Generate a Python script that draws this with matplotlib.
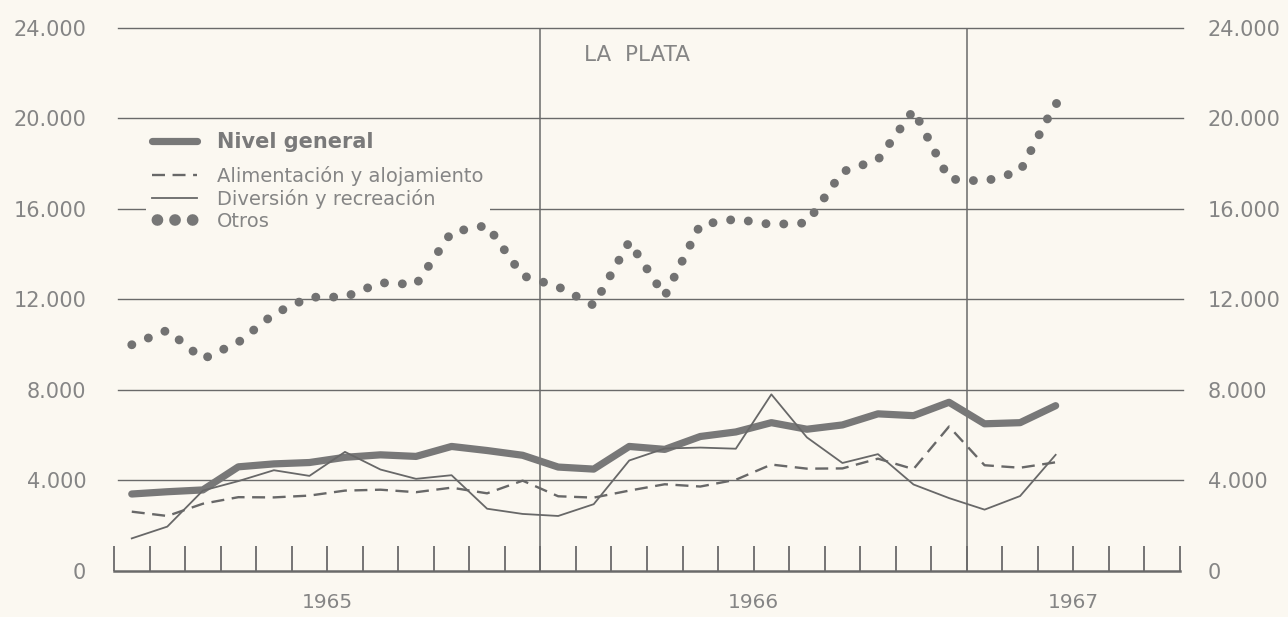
import matplotlib
matplotlib.use("Agg")
import matplotlib.pyplot as plt
import numpy as np
from matplotlib.ticker import FuncFormatter
from matplotlib.lines import Line2D

# ---------------- data (monthly, Jan 1965 .. Mar 1967) ----------------
months = list(range(27))
nivel_general = [3400, 3500, 3580, 4600, 4730, 4790, 5020, 5130, 5060, 5500, 5320, 5110,
                 4590, 4500, 5500, 5370, 5940, 6140, 6550, 6260, 6450, 6940, 6860, 7450,
                 6500, 6550, 7300]
alimentacion = [2620, 2430, 2970, 3260, 3250, 3330, 3550, 3590, 3480, 3680, 3430, 3990,
                3300, 3240, 3550, 3830, 3730, 4030, 4700, 4520, 4530, 4960, 4500, 6380,
                4670, 4560, 4800]
diversion = [1440, 1960, 3550, 3970, 4450, 4200, 5260, 4480, 4070, 4230, 2750, 2520,
             2430, 2950, 4880, 5410, 5450, 5400, 7800, 5900, 4770, 5160, 3820, 3220,
             2710, 3310, 5130]
otros = [9990, 10630, 9360, 10100, 11350, 12090, 12100, 12730, 12650, 14960, 15260, 13040,
         12550, 11730, 14540, 12140, 15290, 15540, 15300, 15370, 17630, 18160, 20350, 17310,
         17210, 17650, 20660]

labels = ["Nivel general", "Alimentación y alojamiento", "Diversión y recreación", "Otros"]
title = "LA  PLATA"
years = ["1965", "1966", "1967"]
year_centers = [6, 18, 27]       # in month-tick units
year_bounds = [12, 24]           # vertical separators
n_ticks = 30
y_ticks = [0, 4000, 8000, 12000, 16000, 20000, 24000]

# ---------------- style ----------------
BG = "#FBF8F1"
TXT = "#858585"
GRID = "#6a6a6a"
LINE = "#686868"
DOT = "#727272"
plt.rcParams["font.family"] = ["DejaVu Sans"]

W, H = 1288, 617
fig = plt.figure(figsize=(W / 100, H / 100), dpi=100, facecolor=BG)
x0, x1 = 114, 1180
ytop, ybot = 27.5, 571
ax = fig.add_axes([x0 / W, 1 - ybot / H, (x1 - x0) / W, (ybot - ytop) / H])
ax.set_facecolor(BG)
ax.set_xlim(0, n_ticks)
ax.set_ylim(y_ticks[0], y_ticks[-1])

# grid lines
for v in y_ticks[1:]:
    ax.axhline(v, xmin=0.004, xmax=1.003, color=GRID, lw=1.0, clip_on=False, zorder=1)
for b in year_bounds:
    ax.axvline(b, color=GRID, lw=1.1, zorder=1)

# spines / ticks
for s in ["left", "right", "top"]:
    ax.spines[s].set_visible(False)
ax.spines["bottom"].set_color(GRID)
ax.spines["bottom"].set_linewidth(1.8)
ax.set_xticks(range(n_ticks + 1))
ax.tick_params(axis="x", direction="in", length=18, width=1.3, color=GRID,
               labelbottom=False)
fmt = FuncFormatter(lambda v, p: f"{int(v):,}".replace(",", "."))
ax.set_yticks(y_ticks)
ax.yaxis.set_major_formatter(fmt)
ax.tick_params(axis="y", length=0, pad=20, labelleft=True, labelright=False,
               labelsize=15, labelcolor=TXT)

axr = ax.twinx()
for s in ["left", "right", "top", "bottom"]:
    axr.spines[s].set_visible(False)
axr.set_ylim(ax.get_ylim())
axr.set_yticks(y_ticks)
axr.yaxis.set_major_formatter(fmt)
axr.tick_params(axis="y", length=0, pad=20, labelsize=15, labelcolor=TXT)
axr.set_zorder(ax.get_zorder() - 1)
ax.patch.set_visible(True)
axr.patch.set_visible(False)

# series
x = np.array(months) + 0.5
l_otros, = ax.plot(x, otros, color=DOT, lw=6.4, linestyle=(0, (0.01, 2.0)),
                   dash_capstyle="round", zorder=3)
ax.plot(x, otros, linestyle="none", marker="o", markevery=[len(x) - 1], ms=6.4,
        mfc=DOT, mec="none", zorder=3)
l_nivel, = ax.plot(x, nivel_general, color="#787878", lw=5.2, solid_capstyle="round",
                   solid_joinstyle="round", zorder=4)
l_alim, = ax.plot(x, alimentacion, color=LINE, lw=1.7, linestyle=(0, (5.5, 3.2)), zorder=5)
l_div, = ax.plot(x, diversion, color=LINE, lw=1.3, zorder=5)

# legend: "Nivel general" stands apart from the other three
leg1 = ax.legend([l_nivel], labels[:1], loc="upper left",
                 bbox_to_anchor=(146 / W, 1 - 126 / H), bbox_transform=fig.transFigure,
                 frameon=True, fontsize=15, handlelength=2.16, handletextpad=0.96,
                 borderpad=0.3, borderaxespad=0)
ax.add_artist(leg1)
otros_handle = Line2D([], [], color="#777777", lw=8.4, linestyle=(1.05, (0.01, 1.5)),
                      dash_capstyle="round")
leg2 = ax.legend([l_alim, l_div, otros_handle], labels[1:], loc="upper left",
                 bbox_to_anchor=(146.2 / W, 1 - 160 / H), bbox_transform=fig.transFigure,
                 frameon=True, fontsize=14, handlelength=2.32, handletextpad=1.03,
                 labelspacing=0.16, borderpad=0.3, borderaxespad=0)
for lg in (leg1, leg2):
    lg.set_zorder(2)
    fr = lg.get_frame()
    fr.set_facecolor(BG)
    fr.set_edgecolor("none")
    fr.set_alpha(1)
    for t in lg.get_texts():
        t.set_color(TXT)
leg1.get_texts()[0].set_fontweight("bold")
leg1.get_texts()[0].set_color("#7a7a7a")

# title
fig.text(637 / W, 1 - 55 / H, title, ha="center", va="center", fontsize=15.5, color=TXT)

# year labels
for yl, c in zip(years, year_centers):
    ax.text(c, -0.058, yl, transform=ax.get_xaxis_transform(), ha="center", va="center",
            fontsize=14.5, color=TXT)

fig.savefig("out.png", dpi=100, facecolor=BG)
